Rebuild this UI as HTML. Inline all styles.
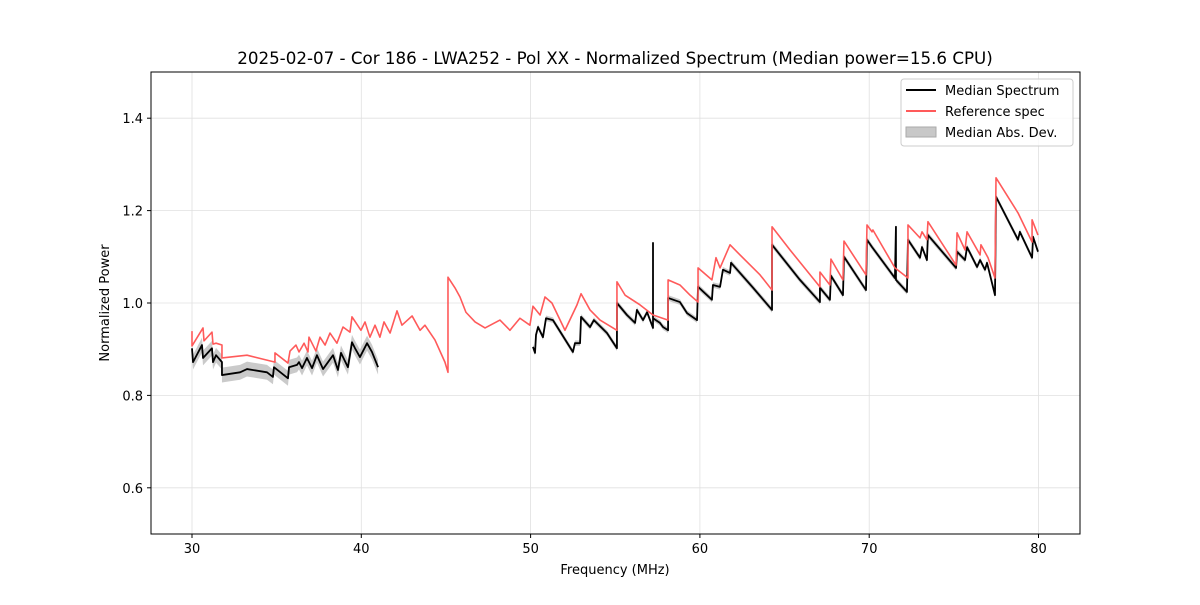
<!DOCTYPE html>
<html><head><meta charset="utf-8"><style>
body{margin:0;background:#fff;font-family:"Liberation Sans","DejaVu Sans",sans-serif}
svg text{font-family:"DejaVu Sans","Liberation Sans",sans-serif}
</style></head><body>
<svg id="chart" width="1200" height="600" viewBox="0 0 1200 600" xmlns="http://www.w3.org/2000/svg">
<rect width="1200" height="600" fill="#fff"/>
<g id="grid"></g>
<g id="series"></g>
<rect x="151" y="72" width="929" height="462" fill="none" stroke="#000" stroke-width="1"/>
<g id="ticks"></g>
<text x="615" y="64" text-anchor="middle" font-size="16.7">2025-02-07 - Cor 186 - LWA252 - Pol XX - Normalized Spectrum (Median power=15.6 CPU)</text>
<text x="615" y="574" text-anchor="middle" font-size="13">Frequency (MHz)</text>
<text transform="translate(109,303) rotate(-90)" text-anchor="middle" font-size="13">Normalized Power</text>
<g>
<rect x="901" y="79" width="172" height="67" rx="3" fill="#fff" fill-opacity="0.8" stroke="#ccc"/>
<line x1="906" y1="90" x2="936" y2="90" stroke="#000" stroke-width="2"/>
<text x="945" y="95" font-size="13">Median Spectrum</text>
<line x1="906" y1="111" x2="936" y2="111" stroke="#ff5a5a" stroke-width="2"/>
<text x="945" y="116" font-size="13">Reference spec</text>
<rect x="906" y="127" width="30" height="10" fill="#c8c8c8" stroke="#aaa"/>
<text x="945" y="137" font-size="13">Median Abs. Dev.</text>
</g>
</svg>
<script>
const xTicks=[30,40,50,60,70,80];
const yTicks=[0.6,0.8,1.0,1.2,1.4];
const refF=[30.00,30.00,30.65,30.71,31.18,31.24,31.42,31.77,31.77,33.25,34.90,34.90,35.67,35.79,36.14,36.32,36.62,36.85,36.91,37.32,37.56,37.86,38.15,38.56,38.92,39.33,39.45,39.98,40.22,40.51,40.81,41.10,41.34,41.70,42.11,42.40,43.00,43.47,43.76,44.35,44.94,45.12,45.12,45.53,45.83,46.18,46.72,47.31,48.19,48.78,49.37,49.96,50.14,50.56,50.85,51.26,52.03,52.74,52.98,53.51,54.10,55.10,55.10,55.58,56.46,57.23,58.12,58.12,58.82,59.42,59.89,59.89,60.71,60.95,61.19,61.78,62.37,63.55,64.26,64.26,65.32,67.09,67.09,67.68,67.74,68.45,68.51,69.81,69.87,70.17,70.22,71.52,72.29,72.29,73.00,73.12,73.41,73.47,75.13,75.19,75.66,75.78,76.55,76.60,77.02,77.43,77.49,78.79,79.62,79.62,79.97];
const refV=[0.939,0.907,0.946,0.918,0.937,0.911,0.913,0.909,0.881,0.887,0.872,0.892,0.870,0.896,0.909,0.894,0.913,0.894,0.926,0.896,0.926,0.909,0.935,0.913,0.948,0.937,0.970,0.941,0.959,0.926,0.952,0.926,0.959,0.935,0.983,0.952,0.972,0.941,0.952,0.920,0.872,0.850,1.056,1.033,1.013,0.980,0.959,0.946,0.963,0.941,0.967,0.952,0.993,0.974,1.013,1.000,0.941,0.996,1.020,0.985,0.963,0.941,1.046,1.017,0.996,0.974,0.963,1.050,1.039,1.017,1.002,1.076,1.050,1.098,1.076,1.126,1.104,1.061,1.028,1.165,1.115,1.035,1.067,1.039,1.095,1.050,1.134,1.061,1.169,1.154,1.158,1.076,1.054,1.169,1.141,1.154,1.137,1.176,1.082,1.152,1.115,1.154,1.104,1.126,1.098,1.054,1.271,1.195,1.132,1.180,1.147];
const medF1=[30.00,30.06,30.59,30.65,31.18,31.24,31.42,31.77,31.77,32.84,33.25,34.43,34.78,34.84,35.67,35.73,36.20,36.32,36.50,36.79,37.09,37.38,37.74,38.33,38.62,38.80,39.21,39.45,39.63,39.92,40.34,40.63,40.99];
const medV1=[0.902,0.872,0.909,0.881,0.902,0.872,0.887,0.872,0.844,0.850,0.857,0.850,0.840,0.861,0.837,0.861,0.866,0.872,0.859,0.881,0.859,0.887,0.857,0.887,0.855,0.892,0.861,0.915,0.902,0.883,0.913,0.894,0.861];
const medF2=[50.14,50.26,50.32,50.44,50.73,50.91,51.32,52.50,52.62,52.92,52.98,53.51,53.74,54.51,55.10,55.10,55.69,56.17,56.28,56.64,56.88,57.23,57.23,57.23,57.64,57.82,58.12,58.12,58.82,59.24,59.83,59.89,60.71,60.77,61.19,61.36,61.78,61.84,63.14,64.26,64.26,65.91,67.09,67.09,67.68,67.74,68.45,68.51,69.81,69.87,70.17,71.52,71.58,71.58,72.23,72.29,73.00,73.12,73.41,73.47,75.13,75.19,75.66,75.78,76.37,76.55,76.84,76.96,77.43,77.49,78.79,78.90,79.62,79.68,79.97];
const medV2=[0.905,0.892,0.931,0.948,0.926,0.967,0.963,0.894,0.913,0.913,0.970,0.948,0.963,0.935,0.902,1.000,0.974,0.957,0.985,0.963,0.980,0.946,1.130,0.967,0.957,0.948,0.941,1.011,1.002,0.978,0.963,1.035,1.007,1.039,1.035,1.072,1.065,1.087,1.033,0.985,1.126,1.050,1.002,1.033,1.007,1.059,1.017,1.100,1.028,1.137,1.121,1.054,1.165,1.050,1.024,1.137,1.098,1.121,1.093,1.147,1.076,1.111,1.093,1.121,1.078,1.093,1.072,1.087,1.017,1.230,1.137,1.154,1.098,1.143,1.111];
const madSeg1=0.016, madSeg2=0.006;
const X=f=>192+(f-30)*16.93;
const Y=v=>534-(v-0.5)*462;
const NS='http://www.w3.org/2000/svg';
function mk(tag,attrs,parent){const e=document.createElementNS(NS,tag);for(const k in attrs)e.setAttribute(k,attrs[k]);parent.appendChild(e);return e;}
const grid=document.getElementById('grid'),ticks=document.getElementById('ticks'),ser=document.getElementById('series');
xTicks.forEach(t=>{const x=X(t);
 const g=mk('line',{x1:x,x2:x,y1:72,y2:534,stroke:'#e0e0e0','stroke-width':0.8},grid);
 
 
 const tk=mk('line',{x1:x,x2:x,y1:534,y2:538,stroke:'#000'},ticks);
 
 
 const tx=mk('text',{x:x,y:553,'text-anchor':'middle','font-size':13},ticks);tx.textContent=t;
 
 
});
yTicks.forEach(t=>{const y=Y(t);
 const g=mk('line',{x1:151,x2:1080,y1:y,y2:y,stroke:'#e0e0e0','stroke-width':0.8},grid);
 
 
 const tk=mk('line',{x1:147,x2:151,y1:y,y2:y,stroke:'#000'},ticks);
 
 
 const tx=mk('text',{x:143,y:y+5,'text-anchor':'end','font-size':13},ticks);tx.textContent=t.toFixed(1);
 
 
});
function band(F,V,d,name){let top=F.map((f,i)=>X(f)+','+Y(V[i]+d));let bot=F.map((f,i)=>X(f)+','+Y(V[i]-d)).reverse();
 const p=mk('polygon',{points:top.concat(bot).join(' '),fill:'#bdbdbd','fill-opacity':0.8},ser);
 
 
}
function line(F,V,col,w,name){const p=mk('polyline',{points:F.map((f,i)=>X(f)+','+Y(V[i])).join(' '),fill:'none',stroke:col,'stroke-width':w,'stroke-linejoin':'round'},ser);
 
 
}
band(medF1,medV1,madSeg1,'mad-band-low');
band(medF2,medV2,madSeg2,'mad-band-high');
line(medF1,medV1,'#000',1.8,'median-line-low');
line(medF2,medV2,'#000',1.8,'median-line-high');
line(refF,refV,'#ff5a5a',1.6,'reference-line');
</script>
</body></html>
